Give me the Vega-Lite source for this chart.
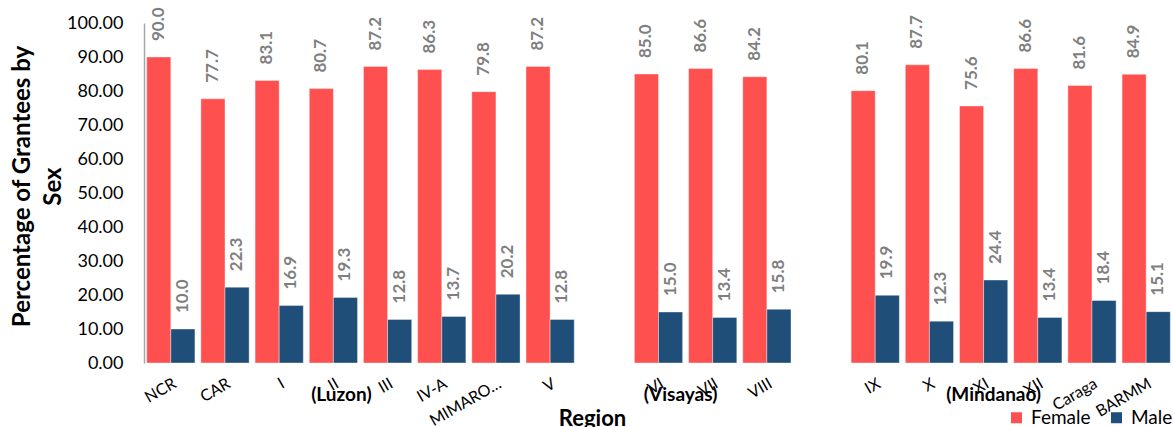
{
  "$schema": "https://vega.github.io/schema/vega-lite/v6.json",
  "width": 1029,
  "height": 340,
  "autosize": {"type": "none"},
  "padding": {"left": 144, "top": 23, "right": 0, "bottom": 64},
  "background": "white",
  "config": {"view": {"stroke": null}, "font": "Lato", "axisY": {"labelOverlap": false, "tickCount": 11}},
  "datasets": {
    "grantees": [
      {"Region": "NCR", "Sex": "Female", "Percent": 90.0},
      {"Region": "NCR", "Sex": "Male", "Percent": 10.0},
      {"Region": "CAR", "Sex": "Female", "Percent": 77.7},
      {"Region": "CAR", "Sex": "Male", "Percent": 22.3},
      {"Region": "I", "Sex": "Female", "Percent": 83.1},
      {"Region": "I", "Sex": "Male", "Percent": 16.9},
      {"Region": "II", "Sex": "Female", "Percent": 80.7},
      {"Region": "II", "Sex": "Male", "Percent": 19.3},
      {"Region": "III", "Sex": "Female", "Percent": 87.2},
      {"Region": "III", "Sex": "Male", "Percent": 12.8},
      {"Region": "IV-A", "Sex": "Female", "Percent": 86.3},
      {"Region": "IV-A", "Sex": "Male", "Percent": 13.7},
      {"Region": "MIMAROPA", "Sex": "Female", "Percent": 79.8},
      {"Region": "MIMAROPA", "Sex": "Male", "Percent": 20.2},
      {"Region": "V", "Sex": "Female", "Percent": 87.2},
      {"Region": "V", "Sex": "Male", "Percent": 12.8},
      {"Region": "VI", "Sex": "Female", "Percent": 85.0},
      {"Region": "VI", "Sex": "Male", "Percent": 15.0},
      {"Region": "VII", "Sex": "Female", "Percent": 86.6},
      {"Region": "VII", "Sex": "Male", "Percent": 13.4},
      {"Region": "VIII", "Sex": "Female", "Percent": 84.2},
      {"Region": "VIII", "Sex": "Male", "Percent": 15.8},
      {"Region": "IX", "Sex": "Female", "Percent": 80.1},
      {"Region": "IX", "Sex": "Male", "Percent": 19.9},
      {"Region": "X", "Sex": "Female", "Percent": 87.7},
      {"Region": "X", "Sex": "Male", "Percent": 12.3},
      {"Region": "XI", "Sex": "Female", "Percent": 75.6},
      {"Region": "XI", "Sex": "Male", "Percent": 24.4},
      {"Region": "XII", "Sex": "Female", "Percent": 86.6},
      {"Region": "XII", "Sex": "Male", "Percent": 13.4},
      {"Region": "Caraga", "Sex": "Female", "Percent": 81.6},
      {"Region": "Caraga", "Sex": "Male", "Percent": 18.4},
      {"Region": "BARMM", "Sex": "Female", "Percent": 84.9},
      {"Region": "BARMM", "Sex": "Male", "Percent": 15.1}
    ],
    "groups": [
      {"Region": "II", "Group": "(Luzon)"},
      {"Region": "VI", "Group": "(Visayas)"},
      {"Region": "XI", "Group": "(Mindanao)"}
    ]
  },
  "layer": [
    {
      "data": {"name": "grantees"},
      "mark": {"type": "bar", "stroke": "#ffffff", "strokeWidth": 0.75, "strokeOpacity": 0.5},
      "encoding": {
        "x": {
          "field": "Region", "type": "nominal", "sort": null,
          "scale": {"domain": ["NCR", "CAR", "I", "II", "III", "IV-A", "MIMAROPA", "V", "_1", "VI", "VII", "VIII", "_2", "IX", "X", "XI", "XII", "Caraga", "BARMM"], "paddingInner": 0.11, "paddingOuter": 0.05},
          "axis": {
            "title": "Region", "titleFont": "Lato", "titleFontSize": 22, "titleFontWeight": "bold", "titleColor": "black",
            "titleX": 448, "titleY": 62, "titleBaseline": "alphabetic", "titleAlign": "center",
            "labelAngle": -30, "labelAlign": "right", "labelBaseline": "top", "labelPadding": 12,
            "labelFont": "Lato", "labelFontSize": 16, "labelColor": "black", "labelOverlap": false,
            "labelExpr": "indexof(datum.label, '_') == 0 ? '' : (datum.label == 'MIMAROPA' ? 'MIMARO…' : datum.label)",
            "ticks": false, "domain": false, "grid": false
          }
        },
        "xOffset": {"field": "Sex", "type": "nominal", "sort": ["Female", "Male"]},
        "y": {
          "field": "Percent", "type": "quantitative",
          "scale": {"domain": [0, 100], "nice": false},
          "axis": {
            "values": [0, 10, 20, 30, 40, 50, 60, 70, 80, 90, 100], "format": ".2f",
            "labelFont": "Lato", "labelFontSize": 18, "labelColor": "black", "labelPadding": 21,
            "labelOverlap": false, "tickCount": 11,
            "ticks": false, "grid": false, "domainColor": "#A6A6A6", "domainWidth": 1.5,
            "title": ["Percentage of Grantees by", "Sex"], "titleFont": "Lato", "titleFontSize": 24,
            "titleFontWeight": "bold", "titleColor": "black", "titleLineHeight": 31,
            "titleX": -134, "titleY": 163, "titleBaseline": "top", "titleAlign": "center", "titleAngle": 270
          }
        },
        "color": {
          "field": "Sex", "type": "nominal",
          "scale": {"domain": ["Female", "Male"], "range": ["#FF5050", "#1F4E79"]},
          "legend": {
            "title": null, "orient": "none", "legendX": 863, "legendY": 385, "direction": "horizontal",
            "symbolType": "square", "symbolSize": 121, "symbolStrokeWidth": 0,
            "labelFont": "Lato", "labelFontSize": 19, "labelColor": "black", "labelOffset": 5,
            "columnPadding": 16, "padding": 0
          }
        }
      }
    },
    {
      "data": {"name": "grantees"},
      "mark": {"type": "text", "angle": 270, "align": "left", "baseline": "middle", "dx": 16, "font": "Lato", "fontWeight": "bold", "fontSize": 17, "color": "#7F7F7F"},
      "encoding": {
        "x": {"field": "Region", "type": "nominal", "sort": null},
        "xOffset": {"field": "Sex", "type": "nominal", "sort": ["Female", "Male"]},
        "y": {"field": "Percent", "type": "quantitative"},
        "text": {"field": "Percent", "type": "quantitative", "format": ".1f"}
      }
    },
    {
      "data": {"name": "groups"},
      "transform": [{"filter": "datum.Group == '(Luzon)'"}],
      "mark": {"type": "text", "align": "center", "baseline": "middle", "dx": 8, "dy": 32, "font": "Lato", "fontWeight": "bold", "fontSize": 19, "color": "black"},
      "encoding": {
        "x": {"field": "Region", "type": "nominal", "sort": null},
        "y": {"datum": 0, "type": "quantitative"},
        "text": {"field": "Group", "type": "nominal"}
      }
    },
    {
      "data": {"name": "groups"},
      "transform": [{"filter": "datum.Group == '(Visayas)'"}],
      "mark": {"type": "text", "align": "center", "baseline": "middle", "dx": 22, "dy": 32, "font": "Lato", "fontWeight": "bold", "fontSize": 19, "color": "black"},
      "encoding": {
        "x": {"field": "Region", "type": "nominal", "sort": null},
        "y": {"datum": 0, "type": "quantitative"},
        "text": {"field": "Group", "type": "nominal"}
      }
    },
    {
      "data": {"name": "groups"},
      "transform": [{"filter": "datum.Group == '(Mindanao)'"}],
      "mark": {"type": "text", "align": "center", "baseline": "middle", "dx": 10, "dy": 32, "font": "Lato", "fontWeight": "bold", "fontSize": 19, "color": "black"},
      "encoding": {
        "x": {"field": "Region", "type": "nominal", "sort": null},
        "y": {"datum": 0, "type": "quantitative"},
        "text": {"field": "Group", "type": "nominal"}
      }
    }
  ]
}
